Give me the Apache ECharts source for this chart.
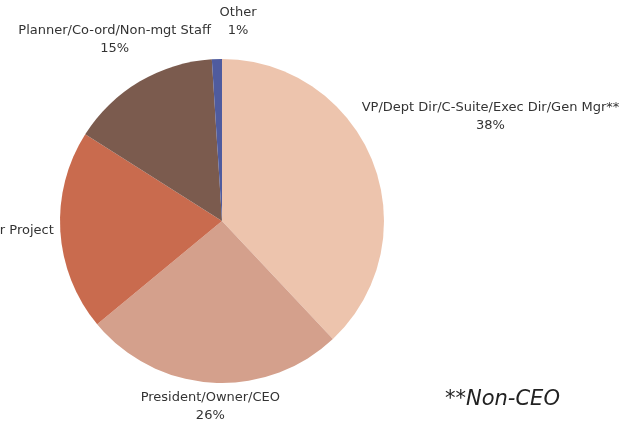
<!DOCTYPE html>
<html>
<head>
<meta charset="utf-8">
<script src="https://cdn.jsdelivr.net/npm/echarts@6/dist/echarts.min.js"></script>
<style>html,body{margin:0;padding:0;background:#fff}#c{width:621px;height:424px}</style>
</head>
<body>
<div id="c"></div>
<script>
// ---- data ----
const categories = [
  'VP/Dept Dir/C-Suite/Exec Dir/Gen Mgr**',
  'President/Owner/CEO',
  'Director/Manager/Sr Project',
  'Planner/Co-ord/Non-mgt Staff',
  'Other'
];
const values = [38, 26, 20, 15, 1];
const colors = ['#EDC4AD', '#D4A08C', '#C96B4E', '#7B5B4E', '#4F5B9E'];
const footnote = '**Non-CEO';

// ---- layout parameters (styling, not data) ----
const CX = 222, CY = 221, R = 162;
const labelDist = [288, 186, 259, 211, 200];
const labelNudge = [0.4, 0, -0.6, 0, 6.4]; // degrees

const total = values.reduce((a, b) => a + b, 0);
const midAngles = [];
let cum = 0;
values.forEach(v => { midAngles.push(360 * (cum + v / 2) / total); cum += v; });

const labelGraphics = categories.map((n, i) => {
  const th = (midAngles[i] + labelNudge[i]) * Math.PI / 180;
  const d = labelDist[i];
  return {
    type: 'text',
    x: CX + d * Math.sin(th),
    y: CY - d * Math.cos(th),
    silent: true,
    style: {
      text: n + '\n' + values[i] + '%',
      font: '13px "DejaVu Sans"',
      lineHeight: 18,
      fill: '#333',
      align: 'center',
      verticalAlign: 'middle'
    }
  };
});

const chart = echarts.init(document.getElementById('c'), null, {renderer: 'canvas'});
chart.setOption({
  animation: false,
  color: colors,
  graphic: labelGraphics.concat([{
    type: 'text', left: 445, top: 389,
    style: {text: footnote, font: 'italic 21px "DejaVu Sans"', fill: '#222'}
  }]),
  series: [{
    type: 'pie',
    center: [CX, CY],
    radius: R,
    startAngle: 90,
    clockwise: true,
    data: categories.map((n, i) => ({name: n, value: values[i]})),
    itemStyle: {borderWidth: 0},
    label: {show: false},
    labelLine: {show: false},
    emphasis: {disabled: true}
  }]
});
</script>
</body>
</html>
